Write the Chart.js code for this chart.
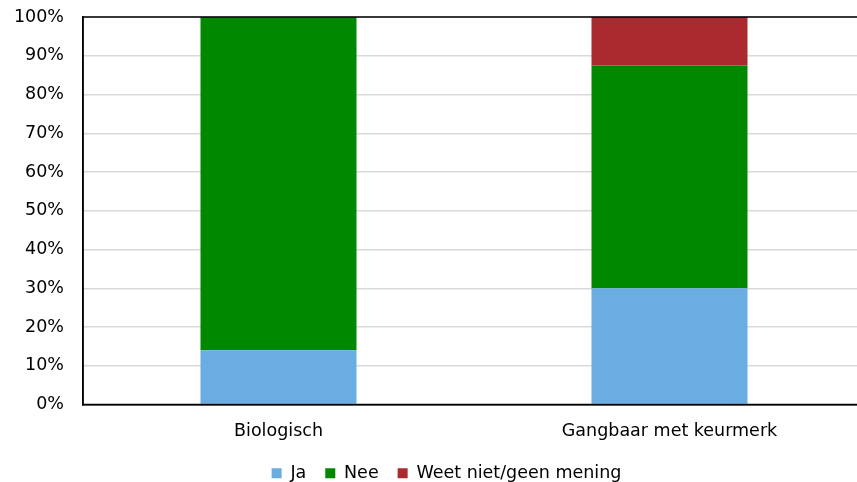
<!DOCTYPE html>
<html>
<head>
<meta charset="utf-8">
<script src="https://cdn.jsdelivr.net/npm/chart.js@4/dist/chart.umd.min.js"></script>
<style>
html,body{margin:0;padding:0;background:#fff;overflow:hidden;}
#wrap{width:857px;height:482px;overflow:hidden;position:relative;}
#c{position:absolute;left:0;top:0;}
</style>
</head>
<body>
<div id="wrap"><canvas id="c" width="865" height="492"></canvas></div>
<script>
const categories = ["Biologisch", "Gangbaar met keurmerk"];
const ja = [14, 30];
const nee = [86, 57.5];
const weetNiet = [0, 12.5];
const yTicks = [0,10,20,30,40,50,60,70,80,90,100];

const FONT = "'DejaVu Sans', Verdana, sans-serif";
const FS = 17.5;
const LEGEND_PAD = 19;

const boxPlugin = {
  id: 'box',
  afterLayout(chart) {
    const lg = chart.legend;
    if (lg) { lg.left += 28; lg.width -= 28; }
  },
  afterDraw(chart) {
    const a = chart.chartArea, ctx = chart.ctx;
    ctx.save();
    ctx.strokeStyle = '#000';
    ctx.lineWidth = 1.5;
    ctx.strokeRect(a.left, a.top, a.right - a.left, a.bottom - a.top);
    ctx.restore();
  }
};

new Chart(document.getElementById('c'), {
  type: 'bar',
  data: {
    labels: categories,
    datasets: [
      { label: 'Ja', data: ja, backgroundColor: '#6aade3' },
      { label: 'Nee', data: nee, backgroundColor: '#008800' },
      { label: 'Weet niet/geen mening', data: weetNiet, backgroundColor: '#aa2a30' }
    ]
  },
  options: {
    responsive: false,
    animation: false,
    layout: { padding: { top: 17, right: 0, left: 0, bottom: 0 } },
    datasets: { bar: { categoryPercentage: 0.399, barPercentage: 1.0 } },
    plugins: {
      legend: {
        position: 'bottom',
        labels: {
          font: { family: FONT, size: FS },
          color: '#000',
          boxWidth: 10,
          boxHeight: 10,
          padding: LEGEND_PAD
        }
      },
      tooltip: { enabled: false }
    },
    scales: {
      x: {
        stacked: true,
        grid: { display: false, drawTicks: false },
        border: { display: true, color: '#000', width: 1.5 },
        ticks: { font: { family: FONT, size: FS }, color: '#000', padding: 16 },
        afterFit(axis) { axis.height = 60 - LEGEND_PAD; axis.paddingLeft = 0; axis.paddingRight = 0; }
      },
      y: {
        stacked: true,
        min: 0, max: 100,
        afterBuildTicks(axis) { axis.ticks = yTicks.map(v => ({ value: v })); },
        grid: { color: '#d9d9d9', lineWidth: 1.5, drawTicks: false },
        border: { display: true, color: '#000', width: 1.5 },
        ticks: { font: { family: FONT, size: FS }, color: '#000', padding: 19, callback: v => v + '%' },
        afterFit(axis) { axis.width = 83; axis.paddingTop = 0; axis.paddingBottom = 0; }
      }
    }
  },
  plugins: [boxPlugin]
});
</script>
</body>
</html>
